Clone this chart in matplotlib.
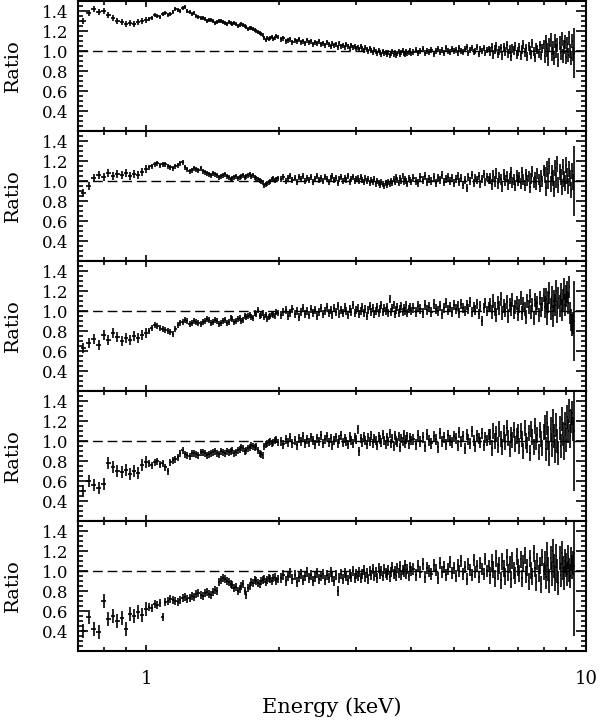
import numpy as np
import matplotlib
matplotlib.use("Agg")
import matplotlib.pyplot as plt
from matplotlib.ticker import FixedLocator, MultipleLocator, LogLocator, FuncFormatter, NullFormatter

plt.rcParams["font.family"] = "DejaVu Serif"

# ---- data: energy bins (keV) shared by all panels ----
energy = [
    0.72, 0.74, 0.76, 0.78, 0.80, 0.82, 0.84, 0.86, 0.88, 0.90, 0.92, 0.94, 0.96, 0.98, 1.00,
    1.015, 1.03, 1.045, 1.06, 1.075, 1.09, 1.105, 1.12, 1.135, 1.15, 1.165, 1.18, 1.195, 1.21, 1.225, 1.24, 1.255, 1.27, 1.285, 1.30,
    1.315, 1.33, 1.345, 1.36, 1.375, 1.39, 1.405, 1.42, 1.435, 1.45, 1.465, 1.48, 1.495, 1.51, 1.525, 1.54, 1.555, 1.57, 1.585, 1.60,
    1.615, 1.63, 1.645, 1.66, 1.675, 1.69, 1.705, 1.72, 1.735, 1.75, 1.765, 1.78, 1.795, 1.81, 1.825, 1.84, 1.855, 1.87, 1.885, 1.90,
    1.915, 1.93, 1.945, 1.96, 1.975, 1.99,
    2.025, 2.05, 2.075, 2.1, 2.125, 2.15, 2.175, 2.2, 2.225, 2.25, 2.275, 2.3, 2.325, 2.35, 2.375, 2.4, 2.425, 2.45, 2.475, 2.5,
    2.525, 2.55, 2.575, 2.6, 2.625, 2.65, 2.675, 2.7, 2.725, 2.75, 2.775, 2.8, 2.825, 2.85, 2.875, 2.9, 2.925, 2.95, 2.975, 3.0,
    3.025, 3.05, 3.075, 3.1, 3.125, 3.15, 3.175, 3.2, 3.225, 3.25, 3.275, 3.3, 3.325, 3.35, 3.375, 3.4, 3.425, 3.45, 3.475, 3.5,
    3.525, 3.55, 3.575, 3.6, 3.625, 3.65, 3.675, 3.7, 3.725, 3.75, 3.775, 3.8, 3.825, 3.85, 3.875, 3.9, 3.925, 3.95, 3.975, 4.0,
    4.05, 4.1, 4.15, 4.2, 4.25, 4.3, 4.35, 4.4, 4.45, 4.5, 4.55, 4.6, 4.65, 4.7, 4.75, 4.8, 4.85, 4.9, 4.95, 5.0,
    5.05, 5.1, 5.15, 5.2, 5.25, 5.3, 5.35, 5.4, 5.45, 5.5, 5.55, 5.6, 5.65, 5.7, 5.75, 5.8, 5.85, 5.9, 5.95, 6.0,
    6.05, 6.1, 6.15, 6.2, 6.25, 6.3, 6.35, 6.4, 6.45, 6.5, 6.55, 6.6, 6.65, 6.7, 6.75, 6.8, 6.85, 6.9, 6.95, 7.0,
    7.05, 7.1, 7.15, 7.2, 7.25, 7.3, 7.35, 7.4, 7.45, 7.5, 7.55, 7.6, 7.65, 7.7, 7.75, 7.8, 7.85, 7.9, 7.95, 8.0,
    8.05, 8.1, 8.15, 8.2, 8.25, 8.3, 8.35, 8.4, 8.45, 8.5, 8.55, 8.6, 8.65, 8.7, 8.75, 8.8, 8.85, 8.9, 8.95, 9.0,
    9.05, 9.1, 9.15, 9.2, 9.25, 9.3, 9.35, 9.4,
]

# ---- ratios, one list per panel ----
ratio_1 = [
    1.30, 1.38, 1.42, 1.39, 1.40, 1.36, 1.33, 1.30, 1.29, 1.27, 1.28, 1.27, 1.29, 1.30, 1.31,
    1.32, 1.33, 1.36, 1.35, 1.34, 1.37, 1.38, 1.36, 1.37, 1.39, 1.42, 1.41, 1.40, 1.43, 1.44, 1.40, 1.39, 1.37, 1.38, 1.35,
    1.34, 1.33, 1.33, 1.32, 1.30, 1.31, 1.31, 1.30, 1.28, 1.29, 1.30, 1.30, 1.29, 1.28, 1.27, 1.29, 1.28, 1.27, 1.28, 1.27,
    1.25, 1.26, 1.27, 1.26, 1.25, 1.24, 1.22, 1.23, 1.23, 1.22, 1.21, 1.20, 1.19, 1.18, 1.17, 1.16, 1.13, 1.11, 1.13, 1.12,
    1.13, 1.14, 1.12, 1.13, 1.15, 1.14,
    1.12, 1.13, 1.10, 1.11, 1.12, 1.09, 1.11, 1.10, 1.12, 1.09, 1.10, 1.08, 1.11, 1.09, 1.10, 1.07, 1.09, 1.08, 1.10, 1.07,
    1.08, 1.06, 1.09, 1.07, 1.05, 1.08, 1.06, 1.07, 1.04, 1.08, 1.05, 1.06, 1.04, 1.07, 1.05, 1.03, 1.06, 1.04, 1.05, 1.03,
    1.04, 1.02, 1.05, 1.03, 1.01, 1.04, 1.02, 1.00, 1.03, 1.01, 0.99, 1.02, 1.00, 0.98, 1.01, 0.99, 0.97, 1.00, 0.98, 0.99,
    0.97, 0.99, 0.96, 0.98, 1.00, 0.97, 0.99, 0.96, 0.98, 1.00, 0.97, 0.99, 1.01, 0.98, 0.97, 1.00, 0.98, 0.99, 1.01, 0.98,
    0.99, 1.01, 0.98, 1.00, 1.02, 0.98, 1.00, 0.99, 1.01, 0.97, 1.00, 1.02, 0.99, 1.01, 0.98, 1.03, 1.00, 0.99, 1.02, 1.00,
    1.01, 0.98, 1.03, 1.00, 0.99, 1.02, 1.04, 0.98, 1.01, 1.03, 0.99, 1.00, 1.04, 0.97, 1.02, 1.00, 1.03, 0.98, 1.01, 1.02,
    1.00, 1.04, 0.97, 1.02, 1.05, 0.98, 1.01, 1.03, 0.96, 1.04, 1.00, 1.06, 0.98, 1.02, 0.95, 1.03, 1.01, 1.05, 0.97, 1.00,
    1.04, 0.96, 1.02, 1.07, 0.99, 1.03, 0.95, 1.05, 1.01, 0.97, 1.08, 1.00, 0.94, 1.04, 1.02, 0.98, 1.06, 0.96, 1.03, 1.07,
    0.95, 1.09, 1.01, 0.92, 1.06, 1.11, 0.97, 1.03, 0.93, 1.10, 1.00, 1.06, 0.91, 1.08, 0.98, 1.12, 0.95, 1.04, 1.09, 0.94,
    1.07, 0.96, 1.13, 1.00, 0.93, 1.10, 0.97, 0.98,
]
ratio_2 = [
    0.88, 0.95, 1.03, 1.06, 1.04, 1.08, 1.05, 1.07, 1.06, 1.08, 1.05, 1.07, 1.06, 1.09, 1.12,
    1.14, 1.15, 1.17, 1.18, 1.16, 1.17, 1.17, 1.15, 1.14, 1.13, 1.15, 1.16, 1.18, 1.19, 1.14, 1.12, 1.10, 1.11, 1.13, 1.12,
    1.11, 1.13, 1.10, 1.09, 1.08, 1.07, 1.06, 1.08, 1.07, 1.06, 1.04, 1.05, 1.06, 1.07, 1.05, 1.04, 1.02, 1.03, 1.04, 1.05,
    1.03, 1.04, 1.05, 1.06, 1.04, 1.05, 1.06, 1.07, 1.05, 1.06, 1.04, 1.03, 1.02, 1.01, 1.00, 0.99, 0.96, 0.97, 0.98, 0.99,
    1.00, 1.02, 1.03, 1.01, 1.02, 1.03,
    1.02, 1.04, 1.00, 1.03, 1.05, 1.01, 1.03, 0.99, 1.04, 1.02, 1.05, 1.00, 1.03, 1.01, 1.04, 0.99, 1.02, 1.05, 1.01, 1.03,
    1.00, 1.04, 1.02, 0.99, 1.03, 1.05, 1.01, 1.03, 0.98, 1.02, 1.04, 1.00, 1.03, 1.01, 1.05, 0.99, 1.02, 1.04, 1.00, 1.02,
    1.03, 1.00, 1.04, 1.01, 0.99, 1.03, 1.00, 1.02, 0.98, 1.01, 0.99, 1.02, 0.97, 1.00, 0.98, 0.96, 0.99, 0.97, 0.95, 0.98,
    0.96, 0.99, 0.97, 1.00, 0.98, 1.02, 0.99, 1.04, 1.01, 0.98, 1.03, 1.00, 1.05, 0.99, 1.02, 1.00, 0.97, 1.03, 1.01, 0.99,
    1.03, 1.00, 0.98, 1.04, 1.01, 1.05, 0.99, 1.02, 1.00, 1.04, 0.98, 1.03, 1.01, 1.06, 0.99, 1.02, 1.04, 1.00, 1.03, 0.98,
    1.02, 1.05, 0.99, 1.03, 0.96, 1.01, 0.93, 1.04, 1.00, 1.06, 0.98, 1.03, 1.01, 1.05, 0.97, 1.02, 1.07, 0.99, 1.04, 1.01,
    1.03, 0.97, 1.06, 1.00, 1.08, 0.98, 1.04, 1.02, 0.95, 1.07, 1.01, 1.05, 0.97, 1.03, 1.09, 0.99, 1.02, 0.96, 1.06, 1.01,
    1.04, 0.98, 1.09, 1.02, 0.96, 1.07, 1.01, 1.05, 0.94, 1.03, 1.10, 0.99, 1.04, 0.97, 1.08, 1.02, 0.95, 1.06, 1.00, 1.11,
    1.06, 0.93, 1.12, 1.00, 1.15, 0.97, 1.08, 1.03, 0.92, 1.13, 1.01, 1.17, 0.96, 1.09, 1.04, 0.94, 1.14, 1.02, 0.98, 1.16,
    1.05, 0.95, 1.12, 1.03, 0.91, 1.10, 0.99, 1.00,
]
ratio_3 = [
    0.63, 0.68, 0.72, 0.66, 0.76, 0.71, 0.78, 0.74, 0.70, 0.73, 0.71, 0.75, 0.73, 0.76, 0.78,
    0.80, 0.83, 0.86, 0.85, 0.83, 0.82, 0.81, 0.80, 0.79, 0.77, 0.82, 0.86, 0.88, 0.89, 0.91, 0.90, 0.87, 0.88, 0.90, 0.89,
    0.88, 0.87, 0.89, 0.90, 0.92, 0.91, 0.88, 0.89, 0.91, 0.90, 0.87, 0.88, 0.90, 0.91, 0.88, 0.89, 0.93, 0.92, 0.89, 0.90,
    0.92, 0.93, 0.90, 0.91, 0.95, 0.94, 0.95, 0.96, 0.94, 0.93, 0.98, 0.97, 1.01, 0.95, 0.96, 0.98, 0.94, 0.96, 0.92, 0.94,
    0.95, 0.97, 0.96, 0.95, 0.99, 0.98,
    0.96, 0.99, 1.01, 0.95, 0.98, 1.02, 0.97, 1.00, 0.94, 0.99, 1.03, 0.97, 1.00, 0.96, 1.02, 0.98, 1.01, 0.95, 0.99, 1.03,
    0.97, 1.00, 1.04, 0.98, 1.01, 0.96, 1.03, 0.99, 1.05, 0.97, 1.01, 0.98, 1.04, 1.00, 0.96, 1.02, 0.99, 1.06, 0.98, 1.01,
    1.03, 0.97, 1.00, 1.04, 0.98, 1.02, 0.95, 1.01, 1.05, 0.99, 1.03, 0.97, 1.00, 1.04, 0.98, 1.02, 1.06, 0.99, 1.03, 1.00,
    1.04, 0.98, 1.12, 0.99, 1.03, 1.06, 0.97, 1.01, 1.04, 0.98, 1.02, 1.05, 0.99, 1.03, 1.00, 1.06, 0.98, 1.02, 1.04, 1.00,
    1.03, 0.99, 1.05, 1.02, 0.98, 1.06, 1.01, 1.04, 0.99, 1.07, 1.02, 1.00, 1.05, 0.97, 1.03, 1.08, 1.01, 1.04, 0.99, 1.06,
    1.02, 1.05, 0.98, 1.07, 1.03, 1.00, 1.06, 1.02, 1.09, 0.99, 1.04, 1.01, 1.07, 0.97, 1.05, 0.90, 1.03, 1.08, 1.00, 1.04,
    1.06, 0.99, 1.10, 1.02, 0.96, 1.08, 1.03, 1.12, 0.98, 1.05, 1.01, 1.09, 0.95, 1.06, 1.02, 1.11, 0.99, 1.04, 1.08, 0.97,
    1.05, 1.13, 0.98, 1.07, 1.02, 0.94, 1.10, 1.04, 1.15, 0.99, 1.06, 0.93, 1.11, 1.03, 1.08, 0.96, 1.13, 1.01, 1.07, 1.16,
    1.04, 1.12, 0.97, 1.09, 1.18, 1.02, 1.14, 0.95, 1.10, 1.06, 1.20, 0.99, 1.13, 1.05, 1.17, 1.01, 1.11, 1.22, 1.06, 1.15,
    1.19, 1.08, 1.24, 0.98, 0.91, 0.86, 0.88, 0.90,
]
ratio_4 = [
    0.50, 0.60, 0.56, 0.53, 0.57, 0.78, 0.74, 0.70, 0.69, 0.71, 0.67, 0.70, 0.68, 0.76, 0.79,
    0.78, 0.76, 0.79, 0.80, 0.77, 0.78, 0.74, 0.70, 0.79, 0.81, 0.82, 0.84, 0.88, 0.91, 0.87, 0.86, 0.85, 0.88, 0.88, 0.87,
    0.86, 0.89, 0.89, 0.88, 0.86, 0.87, 0.88, 0.89, 0.90, 0.88, 0.87, 0.90, 0.89, 0.88, 0.90, 0.89, 0.90, 0.91, 0.88, 0.89,
    0.91, 0.92, 0.94, 0.93, 0.90, 0.91, 0.93, 0.94, 0.96, 0.95, 0.94, 0.95, 0.91, 0.88, 0.87, 0.86, 0.95, 0.97, 0.98, 0.99,
    1.00, 0.98, 0.99, 1.01, 1.02, 0.99,
    1.00, 0.97, 1.02, 0.99, 1.04, 0.98, 1.01, 0.96, 1.03, 1.00, 1.05, 0.98, 1.02, 0.99, 1.04, 1.01, 0.97, 1.03, 1.00, 1.06,
    0.98, 1.02, 1.05, 0.99, 1.03, 0.96, 1.01, 1.04, 0.98, 1.02, 1.06, 0.99, 1.03, 1.00, 0.97, 1.05, 1.01, 0.98, 1.04, 1.02,
    1.12, 0.90, 1.03, 0.99, 1.05, 1.01, 0.97, 1.04, 1.00, 1.06, 0.98, 1.03, 1.01, 0.96, 1.05, 1.02, 0.99, 1.07, 1.01, 0.97,
    1.04, 1.00, 1.08, 0.98, 1.03, 0.95, 1.06, 1.01, 0.99, 1.05, 0.94, 1.03, 1.00, 1.07, 0.98, 1.02, 1.05, 0.97, 1.04, 1.01,
    1.02, 0.97, 1.06, 1.00, 1.04, 0.95, 1.07, 1.01, 0.98, 1.05, 1.02, 0.94, 1.08, 1.00, 1.04, 0.97, 1.06, 1.01, 0.99, 1.05,
    1.03, 0.96, 1.09, 1.00, 1.05, 0.93, 1.07, 1.02, 0.98, 1.10, 1.01, 0.95, 1.06, 1.03, 0.99, 1.08, 0.96, 1.04, 1.01, 1.07,
    1.04, 0.93, 1.10, 1.00, 1.07, 0.96, 1.12, 1.02, 0.94, 1.08, 0.99, 1.13, 1.03, 0.92, 1.06, 1.01, 1.11, 0.97, 1.05, 1.09,
    0.95, 1.10, 1.02, 0.90, 1.13, 1.00, 0.96, 1.08, 0.88, 1.12, 1.04, 0.94, 1.15, 0.99, 1.06, 0.89, 1.11, 1.02, 0.93, 1.09,
    1.14, 0.92, 1.18, 1.03, 0.87, 1.12, 0.96, 1.20, 1.05, 0.90, 1.16, 1.00, 0.88, 1.13, 0.95, 1.22, 1.07, 0.93, 1.17, 1.01,
    1.24, 1.10, 1.30, 1.05, 1.20, 1.28, 1.12, 1.10,
]
ratio_5 = [
    0.40, 0.54, 0.42, 0.39, 0.70, 0.52, 0.55, 0.50, 0.53, 0.42, 0.57, 0.55, 0.59, 0.56, 0.62,
    0.64, 0.63, 0.67, 0.66, 0.68, 0.54, 0.69, 0.70, 0.72, 0.71, 0.70, 0.69, 0.71, 0.73, 0.74, 0.72, 0.73, 0.75, 0.74, 0.77,
    0.78, 0.76, 0.75, 0.78, 0.79, 0.77, 0.76, 0.79, 0.81, 0.80, 0.89, 0.91, 0.93, 0.92, 0.90, 0.89, 0.87, 0.86, 0.83, 0.84,
    0.80, 0.82, 0.85, 0.87, 0.80, 0.76, 0.83, 0.85, 0.89, 0.88, 0.91, 0.90, 0.88, 0.87, 0.90, 0.91, 0.92, 0.89, 0.91, 0.93,
    0.92, 0.90, 0.93, 0.94, 0.90, 0.92,
    0.93, 0.96, 0.90, 0.95, 0.98, 0.92, 0.96, 0.89, 0.94, 0.97, 0.91, 0.95, 0.99, 0.93, 0.96, 0.90, 0.94, 0.98, 0.92, 0.95,
    0.97, 0.91, 0.96, 0.93, 0.99, 0.94, 0.90, 0.96, 0.80, 0.93, 0.97, 0.92, 0.98, 0.95, 0.91, 0.97, 0.94, 1.00, 0.93, 0.97,
    0.95, 0.99, 0.93, 0.97, 1.01, 0.94, 0.98, 0.92, 1.00, 0.96, 1.02, 0.95, 0.99, 0.93, 1.03, 0.97, 1.00, 0.95, 1.02, 0.98,
    0.96, 1.01, 0.94, 0.99, 1.04, 0.97, 1.00, 0.95, 1.03, 0.98, 1.05, 0.96, 1.01, 0.99, 1.06, 0.97, 1.02, 0.95, 1.04, 1.00,
    1.02, 0.96, 1.05, 0.99, 1.07, 0.94, 1.03, 1.00, 0.97, 1.06, 1.01, 0.93, 1.08, 0.99, 1.04, 0.96, 1.02, 1.09, 0.98, 1.03,
    0.95, 1.06, 1.00, 1.10, 0.97, 1.04, 0.92, 1.07, 1.01, 0.96, 1.11, 0.99, 1.05, 0.94, 1.08, 1.02, 0.97, 1.12, 1.00, 1.05,
    0.96, 1.09, 1.02, 0.93, 1.13, 1.00, 1.06, 0.91, 1.10, 1.03, 0.95, 1.14, 0.99, 1.07, 0.92, 1.11, 1.01, 0.96, 1.15, 1.04,
    0.98, 1.12, 0.93, 1.08, 1.16, 0.97, 1.04, 0.90, 1.13, 1.01, 0.95, 1.18, 1.03, 0.89, 1.10, 0.98, 1.06, 0.87, 1.14, 1.00,
    1.08, 0.94, 1.17, 1.02, 0.90, 1.13, 0.97, 1.20, 1.05, 0.92, 1.15, 1.00, 0.88, 1.13, 0.96, 1.18, 1.03, 0.93, 1.10, 1.06,
    0.97, 1.14, 1.01, 0.95, 1.12, 1.04, 1.08, 1.05,
]

# ---- 1-sigma errors, one value per energy segment ----
seg_len = [15, 66, 80, 40, 40, 27, 1]
err_1 = [0.03, 0.02, 0.025, 0.03, 0.045, 0.07, 0.25]
err_2 = [0.04, 0.025, 0.03, 0.04, 0.055, 0.08, 0.35]
err_3 = [0.05, 0.03, 0.04, 0.05, 0.07, 0.11, 0.40]
err_4 = [0.06, 0.035, 0.045, 0.055, 0.08, 0.12, 0.60]
err_5 = [0.07, 0.04, 0.05, 0.06, 0.085, 0.12, 0.70]

ratios = [ratio_1, ratio_2, ratio_3, ratio_4, ratio_5]
errors = [err_1, err_2, err_3, err_4, err_5]

e = np.array(energy)
xerr = np.gradient(e) / 2

fig, axes = plt.subplots(5, 1, sharex=True, figsize=(6, 7.2), dpi=100)
fig.subplots_adjust(left=0.13, right=0.977, top=0.9986, bottom=0.0958, hspace=0)

for ax, r, er in zip(axes, ratios, errors):
    yerr = np.repeat(er, seg_len)
    ax.axhline(1.0, color="k", lw=1.0, ls=(0, (7, 3.5)), zorder=1)
    ax.errorbar(e, r, xerr=xerr, yerr=yerr, fmt="none", ecolor="k",
                elinewidth=1.2, capsize=0, zorder=2)
    ax.set_xscale("log")
    ax.set_xlim(0.70, 10)
    ax.set_ylim(0.2, 1.5)
    ax.yaxis.set_major_locator(FixedLocator([0.4, 0.6, 0.8, 1.0, 1.2, 1.4]))
    ax.yaxis.set_minor_locator(MultipleLocator(0.05))
    ax.yaxis.set_major_formatter(FuncFormatter(lambda v, p: f"{v:.1f}"))
    ax.tick_params(axis="y", which="both", direction="in", left=True, right=True,
                   labelsize=12, pad=7, width=1.2)
    ax.tick_params(axis="y", which="major", length=7)
    ax.tick_params(axis="y", which="minor", length=3.5)
    ax.tick_params(axis="x", which="both", direction="in", top=True, bottom=True,
                   labelsize=13, pad=14, width=1.2)
    ax.tick_params(axis="x", which="major", length=4.5)
    ax.tick_params(axis="x", which="minor", length=3)
    for s in ax.spines.values():
        s.set_linewidth(1.5)
    ax.set_ylabel("Ratio", fontsize=14)
    ax.yaxis.set_label_coords(-0.111, 0.5)

bottom = axes[-1]
bottom.xaxis.set_major_locator(LogLocator(base=10))
bottom.xaxis.set_major_formatter(FuncFormatter(lambda v, p: f"{v:g}"))
bottom.xaxis.set_minor_locator(LogLocator(base=10, subs=np.arange(2, 10)))
bottom.xaxis.set_minor_formatter(NullFormatter())
bottom.set_xlabel("Energy (keV)", fontsize=15)
bottom.xaxis.set_label_coords(0.5, -0.354)

fig.savefig("out.png", dpi=100)
